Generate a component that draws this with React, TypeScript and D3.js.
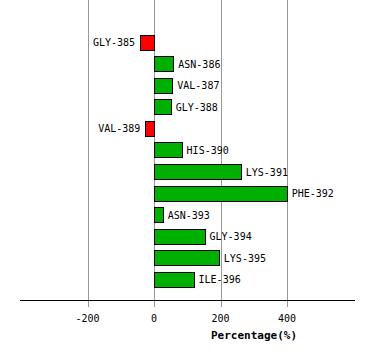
import React, { useEffect, useRef } from 'react';
import * as d3 from 'd3';

const residues = ['GLY-385', 'ASN-386', 'VAL-387', 'GLY-388', 'VAL-389', 'HIS-390', 'LYS-391', 'PHE-392', 'ASN-393', 'GLY-394', 'LYS-395', 'ILE-396'];
const percentages = [-42, 58, 55, 50, -26, 83, 261, 399, 26, 152, 195, 119];
const tickValues = [-200, 0, 200, 400];

const App = () => {
  const chartRef = useRef<SVGSVGElement>(null);

  useEffect(() => {
    const width = 374;
    const height = 360;
    const axisY = 300;
    const font = '"DejaVu Sans Mono", monospace';

    const svg = d3.select(chartRef.current).attr('width', width).attr('height', height);
    svg.selectAll('*').remove();

    const x = d3.scaleLinear().domain([-400, 600]).range([21, 353.5]);
    const y = d3.scaleBand().domain(residues).range([31.5, 290]).paddingInner(0.3).paddingOuter(0.15);

    // grid lines
    svg
      .selectAll('line.grid')
      .data(tickValues)
      .enter()
      .append('line')
      .attr('x1', d => Math.round(x(d)) + 0.5)
      .attr('x2', d => Math.round(x(d)) + 0.5)
      .attr('y1', 0)
      .attr('y2', axisY + 7)
      .attr('stroke', '#999')
      .attr('stroke-width', 1);

    // axis line
    svg
      .append('line')
      .attr('x1', 20)
      .attr('x2', 355)
      .attr('y1', axisY + 0.5)
      .attr('y2', axisY + 0.5)
      .attr('stroke', '#000');

    svg
      .selectAll('text.tick')
      .data(tickValues)
      .enter()
      .append('text')
      .attr('x', d => x(d))
      .attr('y', axisY + 22)
      .attr('text-anchor', 'middle')
      .attr('font-family', font)
      .attr('font-size', 10)
      .text(d => String(d));

    svg
      .append('text')
      .attr('x', 254)
      .attr('y', axisY + 39)
      .attr('text-anchor', 'middle')
      .attr('font-family', font)
      .attr('font-size', 11)
      .attr('font-weight', 'bold')
      .text('Percentage(%)');

    const rows = residues.map((r, i) => ({ name: r, value: percentages[i] }));

    const bars = svg.selectAll('g.bar').data(rows).enter().append('g');

    bars
      .append('rect')
      .attr('x', d => Math.round(x(Math.min(0, d.value))) + 0.5)
      .attr('y', d => Math.round(y(d.name)!) + 0.5)
      .attr('width', d => Math.round(Math.abs(x(d.value) - x(0))))
      .attr('height', Math.round(y.bandwidth()))
      .attr('fill', d => (d.value < 0 ? '#ff0000' : '#00b000'))
      .attr('stroke', '#000')
      .attr('stroke-width', 1);

    bars
      .append('text')
      .attr('x', d => (d.value < 0 ? x(d.value) - 5 : x(d.value) + 5))
      .attr('y', d => y(d.name)! + y.bandwidth() / 2 + 4)
      .attr('text-anchor', d => (d.value < 0 ? 'end' : 'start'))
      .attr('font-family', font)
      .attr('font-size', 10)
      .text(d => d.name);
  }, []);

  return <svg ref={chartRef} style={{ position: 'absolute', left: 0, top: 0, background: '#fff' }}></svg>;
};

export default App;
